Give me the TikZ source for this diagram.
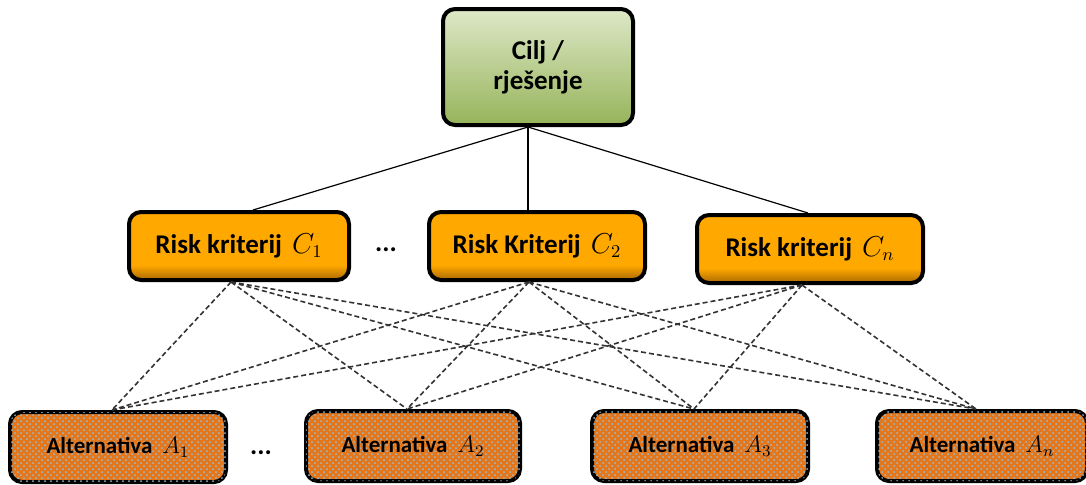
\documentclass[tikz,border=0pt]{standalone}
\usepackage{fontspec}
\setmainfont{Carlito}
\usetikzlibrary{patterns}

\definecolor{goaltop}{RGB}{222,232,200}
\definecolor{goalbot}{RGB}{150,180,90}
\definecolor{crittop}{RGB}{255,168,0}
\definecolor{critbot}{RGB}{170,105,0}
\definecolor{altfill}{RGB}{228,118,28}
\definecolor{altdot}{RGB}{150,190,210}

\pgfdeclareverticalshading{critshade}{100bp}{color(0bp)=(critbot); color(25bp)=(critbot);
	color(36bp)=(crittop); color(100bp)=(crittop)}

\tikzset{
	box/.style={draw=black,line width=2pt,rounded corners=6pt,inner sep=0pt,
		font=\bfseries\fontsize{13.5}{15}\selectfont},
	goal/.style={box,top color=goaltop,bottom color=goalbot,minimum width=95pt,minimum height=58pt,align=center},
	crit/.style={box,shading=critshade,minimum width=110pt,minimum height=34pt},
	alt/.style={box,fill=altfill,postaction={pattern=crosshatch dots,pattern color=altdot},
		minimum width=108pt,minimum height=35pt,font=\bfseries\fontsize{11.5}{13}\selectfont},
	link/.style={line width=0.6pt},
	dlink/.style={line width=0.8pt,black!80,dash pattern=on 2.5pt off 1.5pt}
}

\begin{document}
\begin{tikzpicture}[x=0.5pt,y=-0.5pt]
	\useasboundingbox (0,0) rectangle (1086,484);

	\node[goal] (goal) at (538,67) {Cilj /\\rješenje};

	\node[crit] (c1) at (239,246) {Risk kriterij\hspace{5pt}$C_1$};
	\node[crit,minimum width=108pt] (c2) at (537,246) {Risk Kriterij\hspace{5pt}$C_2$};
	\node[crit,minimum width=113pt] (cn) at (810,249) {Risk kriterij\hspace{5pt}$C_n$};
	\node[font=\bfseries\fontsize{13.5}{15}\selectfont] (cdots) at (386,250) {...};

	\node[alt] (a1) at (118,447) {Alternativa\hspace{5pt}$A_1$};
	\node[alt,minimum width=107pt] (a2) at (413,446) {Alternativa\hspace{5pt}$A_2$};
	\node[alt] (a3) at (700,446) {Alternativa\hspace{5pt}$A_3$};
	\node[alt,minimum width=105pt] (an) at (982,446) {Alternativa\hspace{5pt}$A_n$};
	\node[font=\bfseries\fontsize{13.5}{15}\selectfont] (adots) at (261,453) {...};

	\foreach \c/\s in {c1/7pt,c2/-4.5pt,cn/-1pt} {
			\draw[link] ([xshift=-5pt]goal.south) -- ([xshift=\s]\c.north);
		}

	\foreach \c in {c1,c2,cn} {
			\foreach \a in {a1,a2,a3,an} {
					\draw[dlink] ([xshift=-4pt]\c.south) -- ([xshift=-3pt]\a.north);
				}
		}

\end{tikzpicture}
\end{document}
